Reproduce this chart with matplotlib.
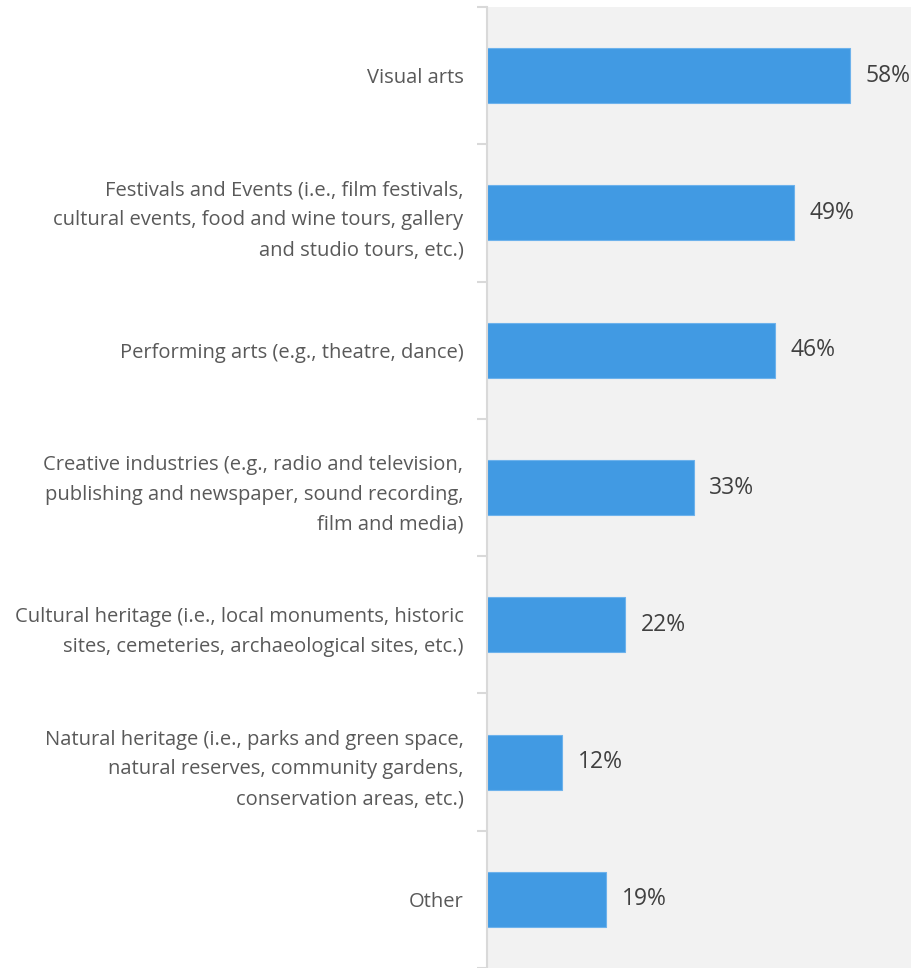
import numpy as np
import matplotlib.pyplot as plt

plt.rcParams['font.family'] = ['Open Sans', 'DejaVu Sans']

categories = [
    "Visual arts",
    "Festivals and Events (i.e., film festivals,\ncultural events, food and wine tours, gallery\nand studio tours, etc.)",
    "Performing arts (e.g., theatre, dance)",
    "Creative industries (e.g., radio and television,\npublishing and newspaper, sound recording,\nfilm and media)",
    "Cultural heritage (i.e., local monuments, historic\nsites, cemeteries, archaeological sites, etc.)",
    "Natural heritage (i.e., parks and green space,\nnatural reserves, community gardens,\nconservation areas, etc.)",
    "Other",
]
values = [58, 49, 46, 33, 22, 12, 19]

fig = plt.figure(figsize=(9.11, 9.68), dpi=100)
ax = fig.add_axes([487 / 911, 0, 1 - 487 / 911, 1 - 7 / 968])
ax.set_facecolor('#f2f2f2')

y = np.arange(len(categories))
ax.barh(y, values, height=0.4, color='#419ae3', edgecolor='#6db2ec', linewidth=0.8, zorder=2)

for yi, v in zip(y, values):
    ax.text(v + 2.5, yi, f"{v}%", va='center', ha='left', fontsize=16.5, color='#404040')

ax.set_xlim(0, 67.7)
ax.set_ylim(6.5 - 5 / 138, -0.5)

# category labels on the left, boundary ticks between categories
ax.set_yticks(y)
ax.set_yticklabels(categories, fontsize=14.5, color='#595959', ha='right', linespacing=1.65)
ax.tick_params(axis='y', which='major', length=0, pad=17)
ax.set_yticks(np.arange(-0.5, len(categories), 1), minor=True)
ax.tick_params(axis='y', which='minor', length=7, width=1.5, color='#d9d9d9')
ax.set_xticks([])

for side in ['top', 'right', 'bottom']:
    ax.spines[side].set_visible(False)
ax.spines['left'].set_color('#d9d9d9')
ax.spines['left'].set_linewidth(1.5)

fig.savefig('out.png', dpi=100)
